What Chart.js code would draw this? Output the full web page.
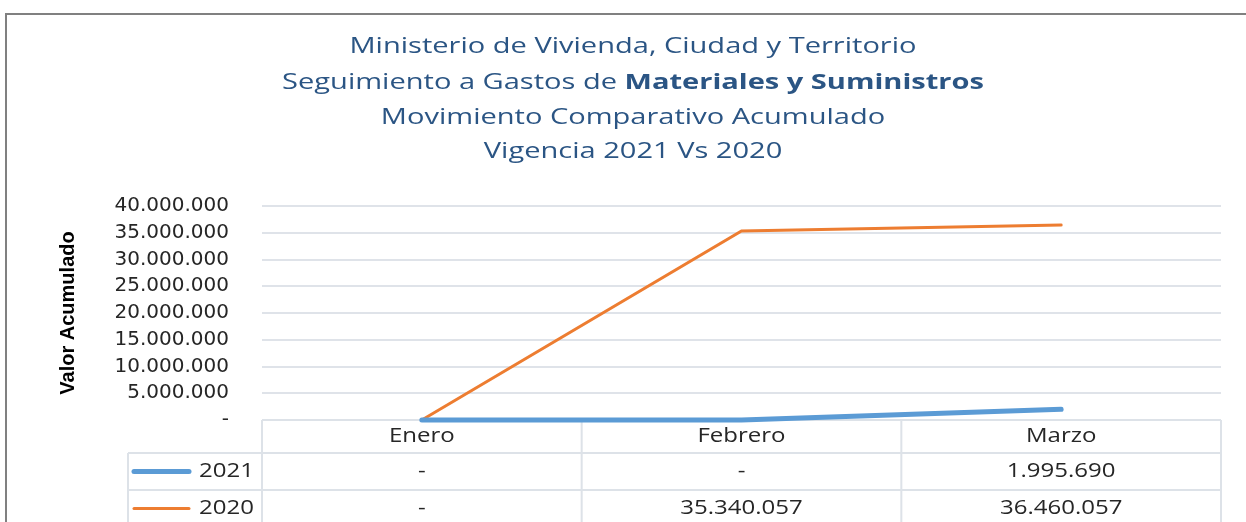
<!DOCTYPE html>
<html>
<head>
<meta charset="utf-8">
<script src="https://cdn.jsdelivr.net/npm/chart.js@4"></script>
<style>
  body { margin: 0; background: #fff; }
  canvas { display: block; }
</style>
</head>
<body>
<canvas id="grafico" width="1246" height="522"></canvas>
<script>
// Datos del grafico
const meses = ['Enero', 'Febrero', 'Marzo'];
const valores2021 = [0, 0, 1995690];
const valores2020 = [0, 35340057, 36460057];
const titulos = [
  'Ministerio de Vivienda, Ciudad y Territorio',
  'Seguimiento a Gastos de ',
  'Materiales y Suministros',
  'Movimiento Comparativo Acumulado',
  'Vigencia 2021 Vs 2020'
];

const azul = '#5b9bd5';
const naranja = '#ed7d31';
const lineaTabla = '#dde2e8';
const fuente = "'Open Sans', sans-serif";

// Formato con puntos de miles, el cero se muestra como guion
function formatear(v) {
  if (v === 0) return '-';
  return Math.round(v).toString().replace(/\B(?=(\d{3})+(?!\d))/g, '.');
}

// Texto algo ensanchado (el original se ve estirado en horizontal)
function textoAncho(ctx, texto, x, y, sx) {
  ctx.save();
  ctx.translate(x, y);
  ctx.scale(sx, 1);
  ctx.fillText(texto, 0, 0);
  ctx.restore();
}

// Marco y titulo
const pluginTitulo = {
  id: 'titulo',
  beforeDraw(chart) {
    const ctx = chart.ctx;
    ctx.save();
    ctx.strokeStyle = '#808080';
    ctx.lineWidth = 2;
    ctx.beginPath();
    ctx.moveTo(6, 522);
    ctx.lineTo(6, 14);
    ctx.lineTo(1246, 14);
    ctx.stroke();

    const cx = 633;
    const sx = 1.32;
    ctx.fillStyle = '#2b5584';
    ctx.textBaseline = 'middle';
    ctx.textAlign = 'center';
    ctx.font = '22px ' + fuente;
    textoAncho(ctx, titulos[0], cx, 47, sx);
    textoAncho(ctx, titulos[3], cx, 118, sx);
    textoAncho(ctx, titulos[4], cx, 152, sx);

    // linea con parte en negrita
    ctx.textAlign = 'left';
    ctx.font = '22px ' + fuente;
    const w1 = ctx.measureText(titulos[1]).width * sx;
    ctx.font = 'bold 22px ' + fuente;
    const w2 = ctx.measureText(titulos[2]).width * sx;
    const x0 = cx - (w1 + w2) / 2;
    ctx.font = '22px ' + fuente;
    textoAncho(ctx, titulos[1], x0, 83, sx);
    ctx.font = 'bold 22px ' + fuente;
    textoAncho(ctx, titulos[2], x0 + w1, 83, sx);
    ctx.restore();
  }
};

// Tabla de datos debajo del eje X
const pluginTabla = {
  id: 'tabla',
  beforeDatasetsDraw(chart) {
    const ctx = chart.ctx;
    const x = chart.scales.x;
    const area = chart.chartArea;
    const medio = (x.getPixelForValue(1) - x.getPixelForValue(0)) / 2;
    const izqLeyenda = 128;
    const filas = [area.bottom, area.bottom + 33, area.bottom + 70, area.bottom + 107];
    const sx = 1.2;

    ctx.save();
    ctx.strokeStyle = lineaTabla;
    ctx.lineWidth = 2;
    ctx.beginPath();
    ctx.moveTo(area.left, filas[0]);
    ctx.lineTo(area.right, filas[0]);
    ctx.moveTo(izqLeyenda, filas[1]);
    ctx.lineTo(area.right, filas[1]);
    ctx.moveTo(izqLeyenda, filas[2]);
    ctx.lineTo(area.right, filas[2]);
    ctx.moveTo(izqLeyenda, filas[1]);
    ctx.lineTo(izqLeyenda, 522);
    meses.forEach((m, i) => {
      const c = x.getPixelForValue(i);
      ctx.moveTo(c - medio, filas[0]);
      ctx.lineTo(c - medio, 522);
    });
    ctx.moveTo(area.right, filas[0]);
    ctx.lineTo(area.right, 522);
    ctx.stroke();

    ctx.fillStyle = '#262626';
    ctx.font = '20px ' + fuente;
    ctx.textAlign = 'center';
    ctx.textBaseline = 'middle';
    meses.forEach((m, i) => {
      const c = x.getPixelForValue(i);
      textoAncho(ctx, m, c, (filas[0] + filas[1]) / 2, sx);
      textoAncho(ctx, formatear(valores2021[i]), c, (filas[1] + filas[2]) / 2, sx);
      textoAncho(ctx, formatear(valores2020[i]), c, (filas[2] + filas[3]) / 2, sx);
    });

    // claves de leyenda
    chart.data.datasets.forEach((ds, k) => {
      const y = (filas[k + 1] + filas[k + 2]) / 2;
      ctx.strokeStyle = ds.borderColor;
      ctx.lineWidth = ds.borderWidth;
      ctx.lineCap = 'round';
      ctx.beginPath();
      ctx.moveTo(134, y);
      ctx.lineTo(189, y);
      ctx.stroke();
      ctx.textAlign = 'right';
      textoAncho(ctx, ds.label, 254, y, sx);
    });
    ctx.restore();
  }
};

const ctx = document.getElementById('grafico').getContext('2d');
const grafico = new Chart(ctx, {
  type: 'line',
  data: {
    labels: meses,
    datasets: [
      {
        label: '2021',
        data: valores2021,
        borderColor: azul,
        borderWidth: 5,
        borderCapStyle: 'round',
        pointRadius: 0,
        tension: 0,
        clip: false,
        fill: false
      },
      {
        label: '2020',
        data: valores2020,
        borderColor: naranja,
        borderWidth: 3,
        borderCapStyle: 'round',
        pointRadius: 0,
        tension: 0,
        clip: false,
        fill: false
      }
    ]
  },
  options: {
    responsive: false,
    animation: false,
    devicePixelRatio: 1,
    layout: { padding: { top: 206, left: 50, right: 25, bottom: 0 } },
    plugins: {
      legend: { display: false },
      title: { display: false },
      tooltip: { enabled: false }
    },
    scales: {
      x: {
        offset: true,
        grid: { display: false },
        border: { display: false },
        ticks: { display: false },
        afterFit(s) { s.height = 102; }
      },
      y: {
        min: 0,
        max: 40000000,
        border: { display: false },
        grid: { color: '#dfe3e9', lineWidth: 2, drawTicks: false },
        ticks: {
          stepSize: 5000000,
          autoSkip: false,
          padding: 33,
          color: '#262626',
          font: { family: "'DejaVu Sans', sans-serif", size: 20, lineHeight: 1 },
          callback: (v) => formatear(v)
        },
        title: {
          display: true,
          text: 'Valor Acumulado',
          color: '#000',
          font: { family: "'Liberation Sans', Arial, sans-serif", size: 20, weight: 'bold' },
          padding: { top: 6, bottom: 0 }
        },
        afterFit(s) { s.width = 212; }
      }
    }
  },
  plugins: [pluginTitulo, pluginTabla]
});
</script>
</body>
</html>
